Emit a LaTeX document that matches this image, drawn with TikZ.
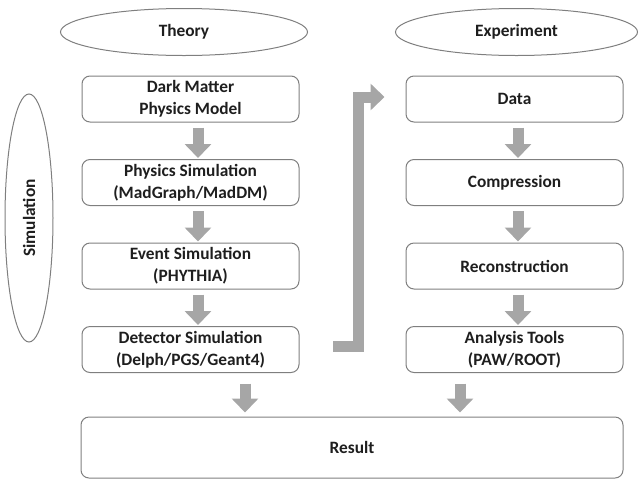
\documentclass[tikz,border=0pt]{standalone}
\usepackage{fontspec}
\setmainfont{Carlito}
\usetikzlibrary{shapes.geometric,arrows.meta,calc}
\definecolor{edgegray}{HTML}{7F7F7F}
\definecolor{flowgray}{HTML}{A6A6A6}
\definecolor{ink}{HTML}{1E1E1E}
\begin{document}
\begin{tikzpicture}[x=0.75pt,y=-0.75pt,
  label text/.style={font=\fontsize{13}{16.5}\selectfont\bfseries, text=ink, align=center},
  stage/.style={label text, draw=edgegray, line width=0.75pt, rounded corners=6pt,
    minimum width=162.75pt, minimum height=34.5pt, inner sep=0pt},
  headline/.style={label text, ellipse, draw=edgegray, line width=0.75pt, inner sep=0pt,
    minimum height=35.25pt},
  flow/.style={draw=flowgray, line width=8.25pt, line join=miter,
    -{Triangle[width=19.5pt,length=10.5pt]}}]
\useasboundingbox (0,0) rectangle (638,479);

% column headings
\node[headline, minimum width=185.25pt] (theory) at (184,32) {Theory};
\node[headline, minimum width=181.5pt] (experiment) at (516.5,32) {Experiment};
\node[headline, rotate=90, minimum width=186pt, minimum height=36pt] (simulation) at (29,218) {Simulation};

% simulation chain
\node[stage] (model)  at (190.5,99)    {Dark Matter\\Physics Model};
\node[stage] (physim) at (190.5,182.5) {Physics Simulation\\(MadGraph/MadDM)};
\node[stage] (evsim)  at (190.5,266)   {Event Simulation\\(PHYTHIA)};
\node[stage] (detsim) at (190.5,349.5) {Detector Simulation\\(Delph/PGS/Geant4)};

% experiment chain
\node[stage] (data)     at (514.5,99)    {Data};
\node[stage] (compress) at (514.5,182.5) {Compression};
\node[stage] (reco)     at (514.5,266)   {Reconstruction};
\node[stage] (tools)    at (514.5,349.5) {Analysis Tools\\(PAW/ROOT)};

% combined outcome
\node[stage, minimum width=406.5pt, minimum height=45.75pt] (result) at (352,447.5) {Result};

% block arrows down each chain
\foreach \a/\b in {model/physim, physim/evsim, evsim/detsim}
  \draw[flow] ($(\a.south)+(7.5,5)$) -- ($(\b.north)+(7.5,-1)$);
\foreach \a/\b in {data/compress, compress/reco, reco/tools}
  \draw[flow] ($(\a.south)+(3.5,5)$) -- ($(\b.north)+(3.5,-1)$);

% both chains into the result
\draw[flow] ($(detsim.south)+(54.5,10.5)$) -- ($(result.north)+(-107,-4)$);
\draw[flow] ($(tools.south)+(-54.5,10.5)$) -- ($(result.north)+(108,-4)$);

% simulation feeds the data stage
\coordinate (elbowstart) at (333,346.5);
\draw[flow] (elbowstart) -| ($(data.west)+(-47.5,-2)$) -- ($(data.west)+(-21,-2)$);
\end{tikzpicture}
\end{document}
